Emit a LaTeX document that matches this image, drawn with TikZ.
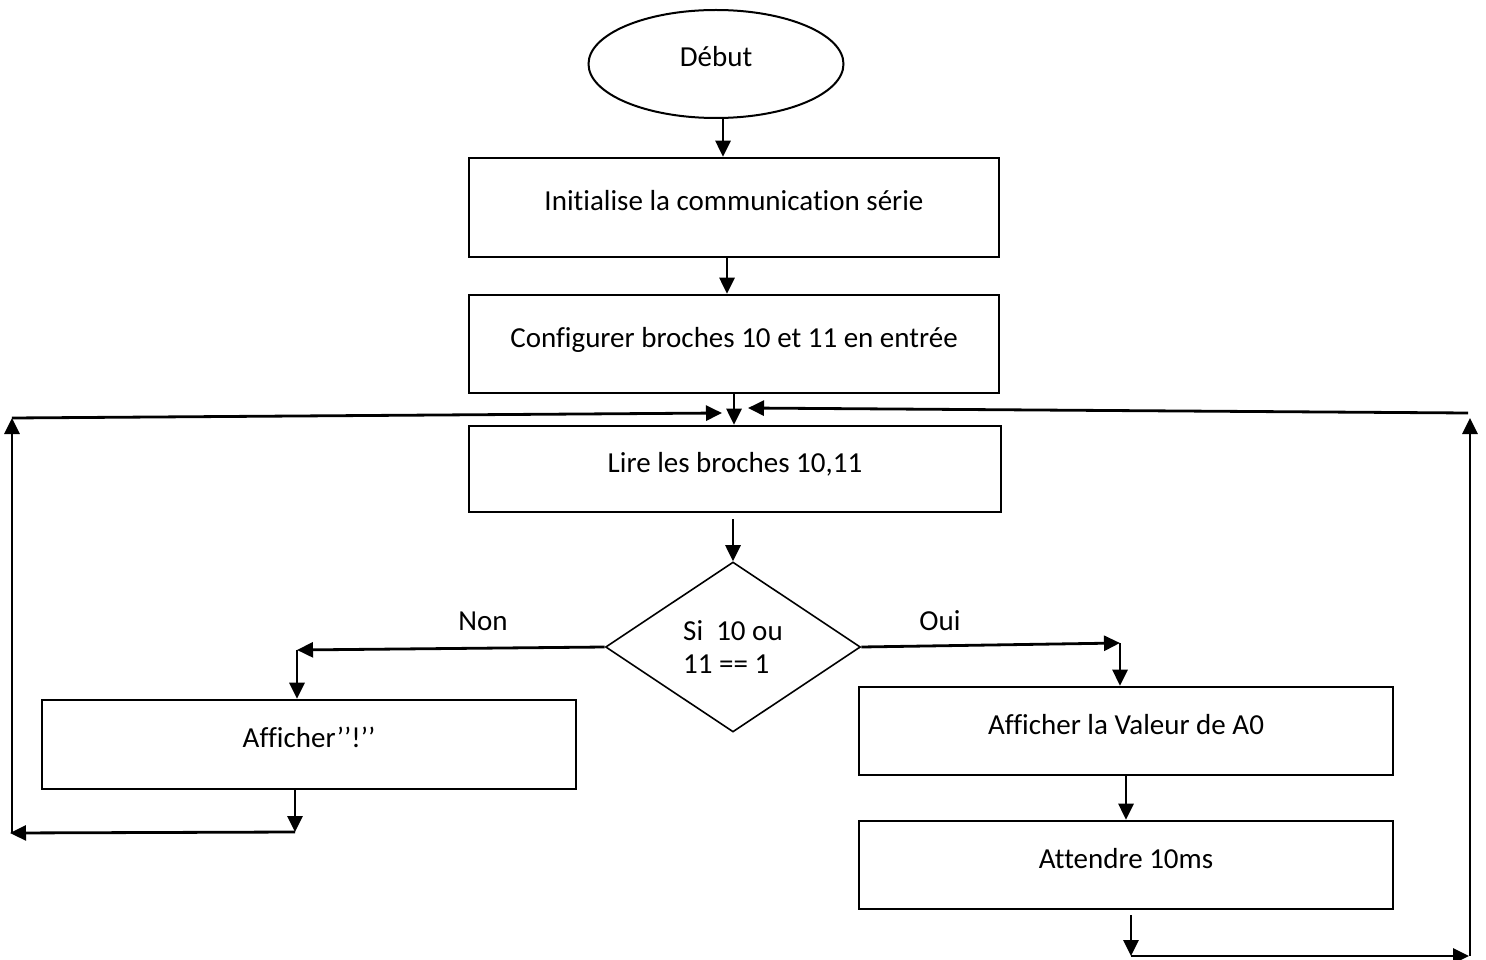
\documentclass[tikz,border=0pt]{standalone}
\usepackage{fontspec}
\setmainfont{Carlito}[Ligatures=NoCommon]
\usetikzlibrary{shapes.geometric,arrows.meta}

\begin{document}
\begin{tikzpicture}[x=1pt,y=-1pt,
  font=\fontsize{29}{33}\selectfont,
  flow/.style={line width=2.8pt,-{Triangle[length=16pt,width=15pt]}},
  stepbox/.style={draw,line width=2.6pt,rectangle,inner sep=0pt,
    text height=24pt,text depth=18pt},
  terminal/.style={draw,line width=2pt,ellipse,inner sep=0pt,
    text height=24pt,text depth=18pt},
  decision/.style={draw,line width=1.6pt,diamond,inner sep=0pt,align=left},
  branch/.style={inner sep=0pt}]

\useasboundingbox (0,0) rectangle (1486,960);

% main column
\node[terminal,minimum width=255pt,minimum height=108pt] (start) at (716,64) {Début};
\node[stepbox,minimum width=530pt,minimum height=99pt] (init) at (734,207.5) {Initialise la communication série};
\node[stepbox,minimum width=530pt,minimum height=98pt] (cfg) at (734,344) {Configurer broches 10 et 11 en entrée};
\node[stepbox,minimum width=532pt,minimum height=86pt] (read) at (735,469) {Lire les broches 10,11};
\node[decision,minimum width=255pt,minimum height=170pt] (test) at (733,647) {Si\ \ 10 ou\\11 == 1};

% branches
\node[stepbox,minimum width=534pt,minimum height=89pt] (bang) at (309,744.5) {Afficher’’!’’};
\node[stepbox,minimum width=534pt,minimum height=88pt] (show) at (1126,731) {Afficher la Valeur de A0};
\node[stepbox,minimum width=534pt,minimum height=88pt] (wait) at (1126,865) {Attendre 10ms};

\node[branch] (non) at (483,621) {Non};
\node[branch] (oui) at (940,621) {Oui};

% corner points of the connectors
\coordinate (nb) at (297,650);
\coordinate (ob) at (1120,643);
\coordinate (lb) at (295,832);
\coordinate (ll) at (10,833);
\coordinate (lt) at (12,418);
\coordinate (lj) at (722,413);
\coordinate (rb) at (1131,956);
\coordinate (rr) at (1469,956);
\coordinate (rt) at (1470,418);
\coordinate (rs) at (1468,413);
\coordinate (rj) at (748,408);

% straight flow
\draw[flow] (start.south -| 723,0) -- (init.north -| 723,0);
\draw[flow] (init.south -| 727,0) -- (cfg.north -| 727,0);
\draw[flow] (cfg.south -| 734,0) -- (read.north -| 734,0);
\draw[flow] ([yshift=-6pt]read.south -| test.north) -- (test.north);

% "Non" branch
\draw[flow] (test.west) -- (nb);
\draw[flow] (nb) -- (nb |- bang.north);
\draw[flow] (bang.south -| lb) -- (lb);
\draw[flow] (lb) -- (ll);
\draw[flow] (ll -| lt) -- (lt);
\draw[flow] (lt) -- (lj);

% "Oui" branch
\draw[flow] (test.east) -- (ob);
\draw[flow] (ob) -- (ob |- show.north);
\draw[flow] (show.south) -- (wait.north);
\draw[flow] ([yshift=-5pt]wait.south -| rb) -- (rb);
\draw[flow] (rb) -- (rr);
\draw[flow] (rr -| rt) -- (rt);
\draw[flow] (rs) -- (rj);

\end{tikzpicture}
\end{document}
